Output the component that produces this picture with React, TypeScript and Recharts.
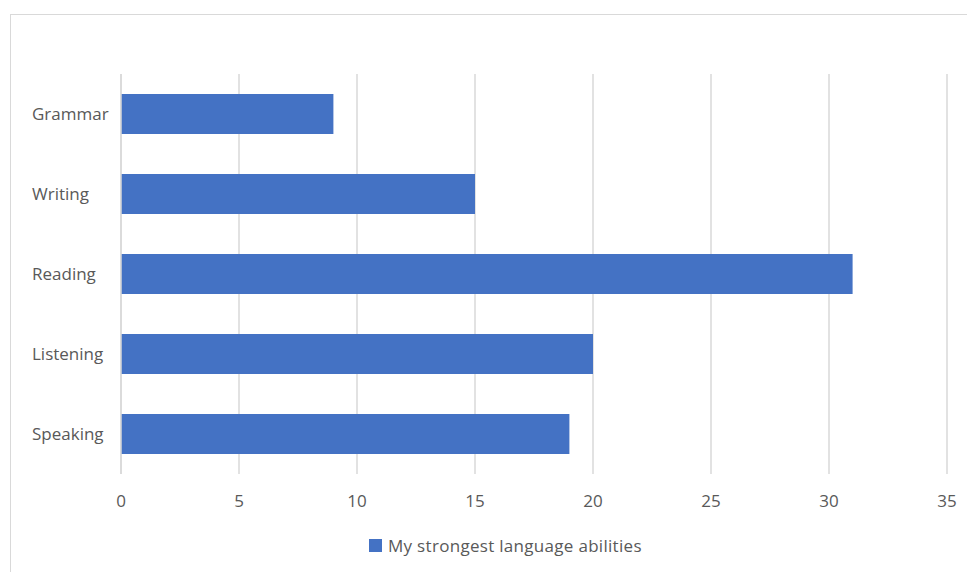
import { BarChart, Bar, XAxis, YAxis, CartesianGrid } from 'recharts'

const categories = ['Grammar', 'Writing', 'Reading', 'Listening', 'Speaking']
const values = [9, 15, 31, 20, 19]
const xTicks = [0, 5, 10, 15, 20, 25, 30, 35]
const seriesName = 'My strongest language abilities'

const data = categories.map((name, i) => ({ name, value: values[i] }))

const FONT = '"Open Sans", "Noto Sans", sans-serif'
const TEXT = '#595959'
const FS = 17

// Excel-style category labels: left aligned in the label column
function CategoryTick(props: any) {
  const { y, payload } = props
  return (
    <text x={32} y={y} dy="0.35em" textAnchor="start" fontSize={FS} fill={TEXT} fontFamily={FONT}>
      {payload.value}
    </text>
  )
}

export default function App() {
  return (
    <div style={{ position: 'absolute', left: 0, top: 0, width: 967, height: 572, overflow: 'hidden', background: '#fff' }}>
      <div style={{ position: 'absolute', left: 10, top: 14, width: 980, height: 600, border: '1px solid #d9d9d9' }} />
      <div style={{ position: 'absolute', left: 0, top: 0 }}>
        <BarChart
          layout="vertical"
          width={967}
          height={572}
          data={data}
          margin={{ top: 74, right: 20, bottom: 68, left: 10 }}
          barSize={40}
        >
          <CartesianGrid horizontal={false} stroke="#d9d9d9" strokeWidth={1.5} />
          <XAxis
            type="number"
            domain={[0, 35]}
            ticks={xTicks}
            axisLine={false}
            tickLine={false}
            tickMargin={15}
            tick={{ fontSize: FS, fill: TEXT, fontFamily: FONT }}
          />
          <YAxis
            type="category"
            dataKey="name"
            width={111}
            axisLine={{ stroke: '#d9d9d9', strokeWidth: 1.5 }}
            tickLine={false}
            tick={<CategoryTick />}
          />
          <Bar dataKey="value" fill="#4472C4" isAnimationActive={false} />
        </BarChart>
      </div>
      <div style={{ position: 'absolute', left: 369, top: 534, display: 'flex', alignItems: 'center', fontFamily: FONT, fontSize: FS, color: TEXT, letterSpacing: 0.3 }}>
        <span style={{ width: 13, height: 13, background: '#4472C4', display: 'inline-block', marginRight: 6 }} />
        <span>{seriesName}</span>
      </div>
    </div>
  )
}
